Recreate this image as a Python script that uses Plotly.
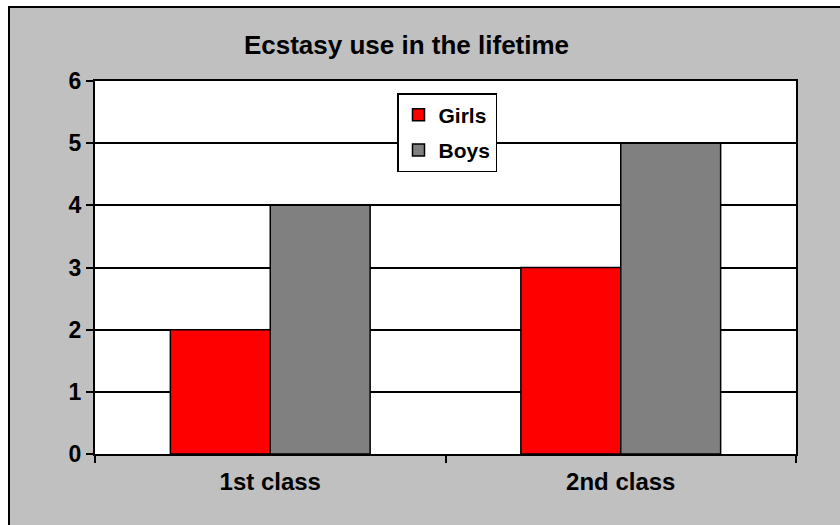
import plotly.graph_objects as go

categories = ["1st class", "2nd class"]
girls = [2, 3]
boys = [4, 5]
series_names = ["Girls", "Boys"]
title_text = "Ecstasy use in the lifetime"
y_ticks = [0, 1, 2, 3, 4, 5, 6]

FONT = "Liberation Sans, Arial, sans-serif"

fig = go.Figure()
fig.add_trace(go.Bar(name=series_names[0], x=categories, y=girls, legendgroup="g",
                     marker=dict(color="#FF0000", line=dict(color="black", width=1.5))))
fig.add_trace(go.Bar(name=series_names[1], x=categories, y=boys, legendgroup="b",
                     marker=dict(color="#808080", line=dict(color="black", width=1.5))))

L, R, T, B = 95, 44, 81, 71
W, H = 840, 525
pw, ph = W - L - R, H - T - B

def px_x(v):
    return (v - L) / pw

def px_y(v):
    return (H - B - v) / ph

fig.update_layout(
    width=W, height=H, autosize=False,
    margin=dict(l=L, r=R, t=T, b=B, pad=0),
    paper_bgcolor="white", plot_bgcolor="white",
    barmode="group", bargap=0.43, bargroupgap=0,
    font=dict(family=FONT, color="black", size=22, weight=700),
    title=dict(text=title_text, x=px_x(406.5), xref="paper", xanchor="center",
               y=1 - 45 / H, yref="container", yanchor="middle",
               font=dict(size=26, family=FONT, color="black", weight=700)),
    showlegend=True,
    legend=dict(x=px_x(397), y=px_y(93), xanchor="left", yanchor="top",
                bgcolor="white", bordercolor="black", borderwidth=1.5,
                tracegroupgap=5, traceorder="grouped",
                font=dict(size=21, family=FONT, color="black", weight=700)),
    xaxis=dict(showline=True, linecolor="black", linewidth=2, mirror=True,
               ticks="outside", ticklen=7, tickcolor="black", tickwidth=1.5,
               tickson="boundaries", showgrid=False, ticklabelstandoff=5,
               tickfont=dict(size=24, family=FONT, color="black", weight=700)),
    yaxis=dict(range=[0, 6], tickvals=y_ticks, showline=True, linecolor="black",
               linewidth=2, mirror=True, ticks="outside", ticklen=7,
               tickcolor="black", tickwidth=1.5, showgrid=True,
               gridcolor="black", gridwidth=1.5, zeroline=False,
               tickfont=dict(size=23, family=FONT, color="black", weight=700)),
    shapes=[
        dict(type="rect", xref="paper", yref="paper", layer="below",
             x0=px_x(9), x1=px_x(W + 20), y0=px_y(H + 20), y1=px_y(7),
             fillcolor="#C0C0C0", line=dict(color="black", width=2)),
        dict(type="rect", xref="paper", yref="paper", layer="below",
             x0=0, x1=1, y0=0, y1=1, fillcolor="white", line=dict(width=0)),
    ],
)

fig.write_html("out.html", config={"displayModeBar": False},
               post_script="document.body.style.margin='0';document.body.style.overflow='hidden';")
